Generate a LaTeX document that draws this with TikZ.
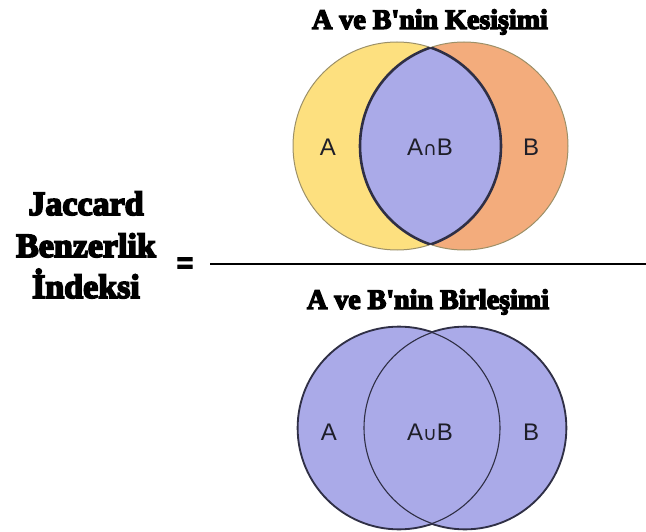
\documentclass[tikz,border=0pt]{standalone}
\usepackage{fontspec}
\setmainfont{Liberation Serif}
\newfontfamily\headfont[BoldFeatures={FakeBold=5}]{Liberation Serif}
\newfontfamily\labelfont{Liberation Sans}
\newfontfamily\eqfont[BoldFeatures={FakeBold=4}]{Liberation Sans}
\newfontfamily\symfont{DejaVu Sans}

\definecolor{setyellow}{HTML}{FDE07F}
\definecolor{setorange}{HTML}{F3AC7C}
\definecolor{setpurple}{HTML}{AAAAE8}
\definecolor{rimdark}{HTML}{2F2F45}
\definecolor{rimlight}{HTML}{9C9068}
\definecolor{inkdark}{HTML}{1E1E28}

\tikzset{
  heading/.style={font=\headfont\bfseries\fontsize{28}{30}\selectfont, text=black, inner sep=0pt},
  bigword/.style={font=\headfont\bfseries\fontsize{34}{41}\selectfont, text=black, inner sep=0pt, anchor=base},
  setlabel/.style={font=\labelfont\fontsize{24}{26}\selectfont, text=inkdark, inner sep=0pt},
}

\begin{document}
\begin{tikzpicture}[x=1pt,y=-1pt]
\useasboundingbox (0,0) rectangle (646,532);

% ---- intersection diagram ----
\coordinate (ta) at (397,146);
\coordinate (tb) at (464,146);
\fill[setyellow] (ta) circle[radius=104pt];
\fill[setorange] (tb) circle[radius=104pt];
\begin{scope}
  \clip (ta) circle[radius=104pt];
  \fill[setpurple] (tb) circle[radius=104pt];
\end{scope}
\draw[rimlight, line width=1pt] (ta) circle[radius=104pt];
\draw[rimlight, line width=1pt] (tb) circle[radius=104pt];
% outline of the lens
\begin{scope}
  \clip (ta) circle[radius=104pt];
  \draw[rimdark, line width=2.6pt] (tb) circle[radius=104pt];
\end{scope}
\begin{scope}
  \clip (tb) circle[radius=104pt];
  \draw[rimdark, line width=2.6pt] (ta) circle[radius=104pt];
\end{scope}

\node[heading] (titleI) at (430,22) {A ve B'nin Kesişimi};
\node[setlabel] (tA) at (328,147) {A};
\node[setlabel] (tAB) at (430,147) {A{\symfont\fontsize{19}{20}\selectfont ∩}B};
\node[setlabel] (tB) at (531,147) {B};

% ---- union diagram ----
\coordinate (ua) at (399,428);
\coordinate (ub) at (465,428);
\draw[rimdark, line width=2.6pt] (ua) circle[radius=101pt];
\draw[rimdark, line width=2.6pt] (ub) circle[radius=101pt];
\fill[setpurple] (ua) circle[radius=101pt];
\fill[setpurple] (ub) circle[radius=101pt];
\draw[rimdark, line width=1.1pt] (ua) circle[radius=101pt];
\draw[rimdark, line width=1.1pt] (ub) circle[radius=101pt];

\node[heading] (titleU) at (428,302) {A ve B'nin Birleşimi};
\node[setlabel] (uA) at (329,432) {A};
\node[setlabel] (uAB) at (430,432) {A{\symfont\fontsize{19}{20}\selectfont ∪}B};
\node[setlabel] (uB) at (531,432) {B};

% ---- left-hand side and fraction bar ----
\node[bigword] (w1) at (86,215) {Jaccard};
\node[bigword] (w2) at (86,257) {Benzerlik};
\node[bigword] (w3) at (86,298) {İndeksi};
\node[font=\eqfont\bfseries\fontsize{28}{30}\selectfont, inner sep=0pt] (eq) at (185,265) {=};

\coordinate (barL) at (210,264);
\coordinate (barR) at (646,264);
\draw[black, line width=2pt] (barL) -- (barR);
\end{tikzpicture}
\end{document}
